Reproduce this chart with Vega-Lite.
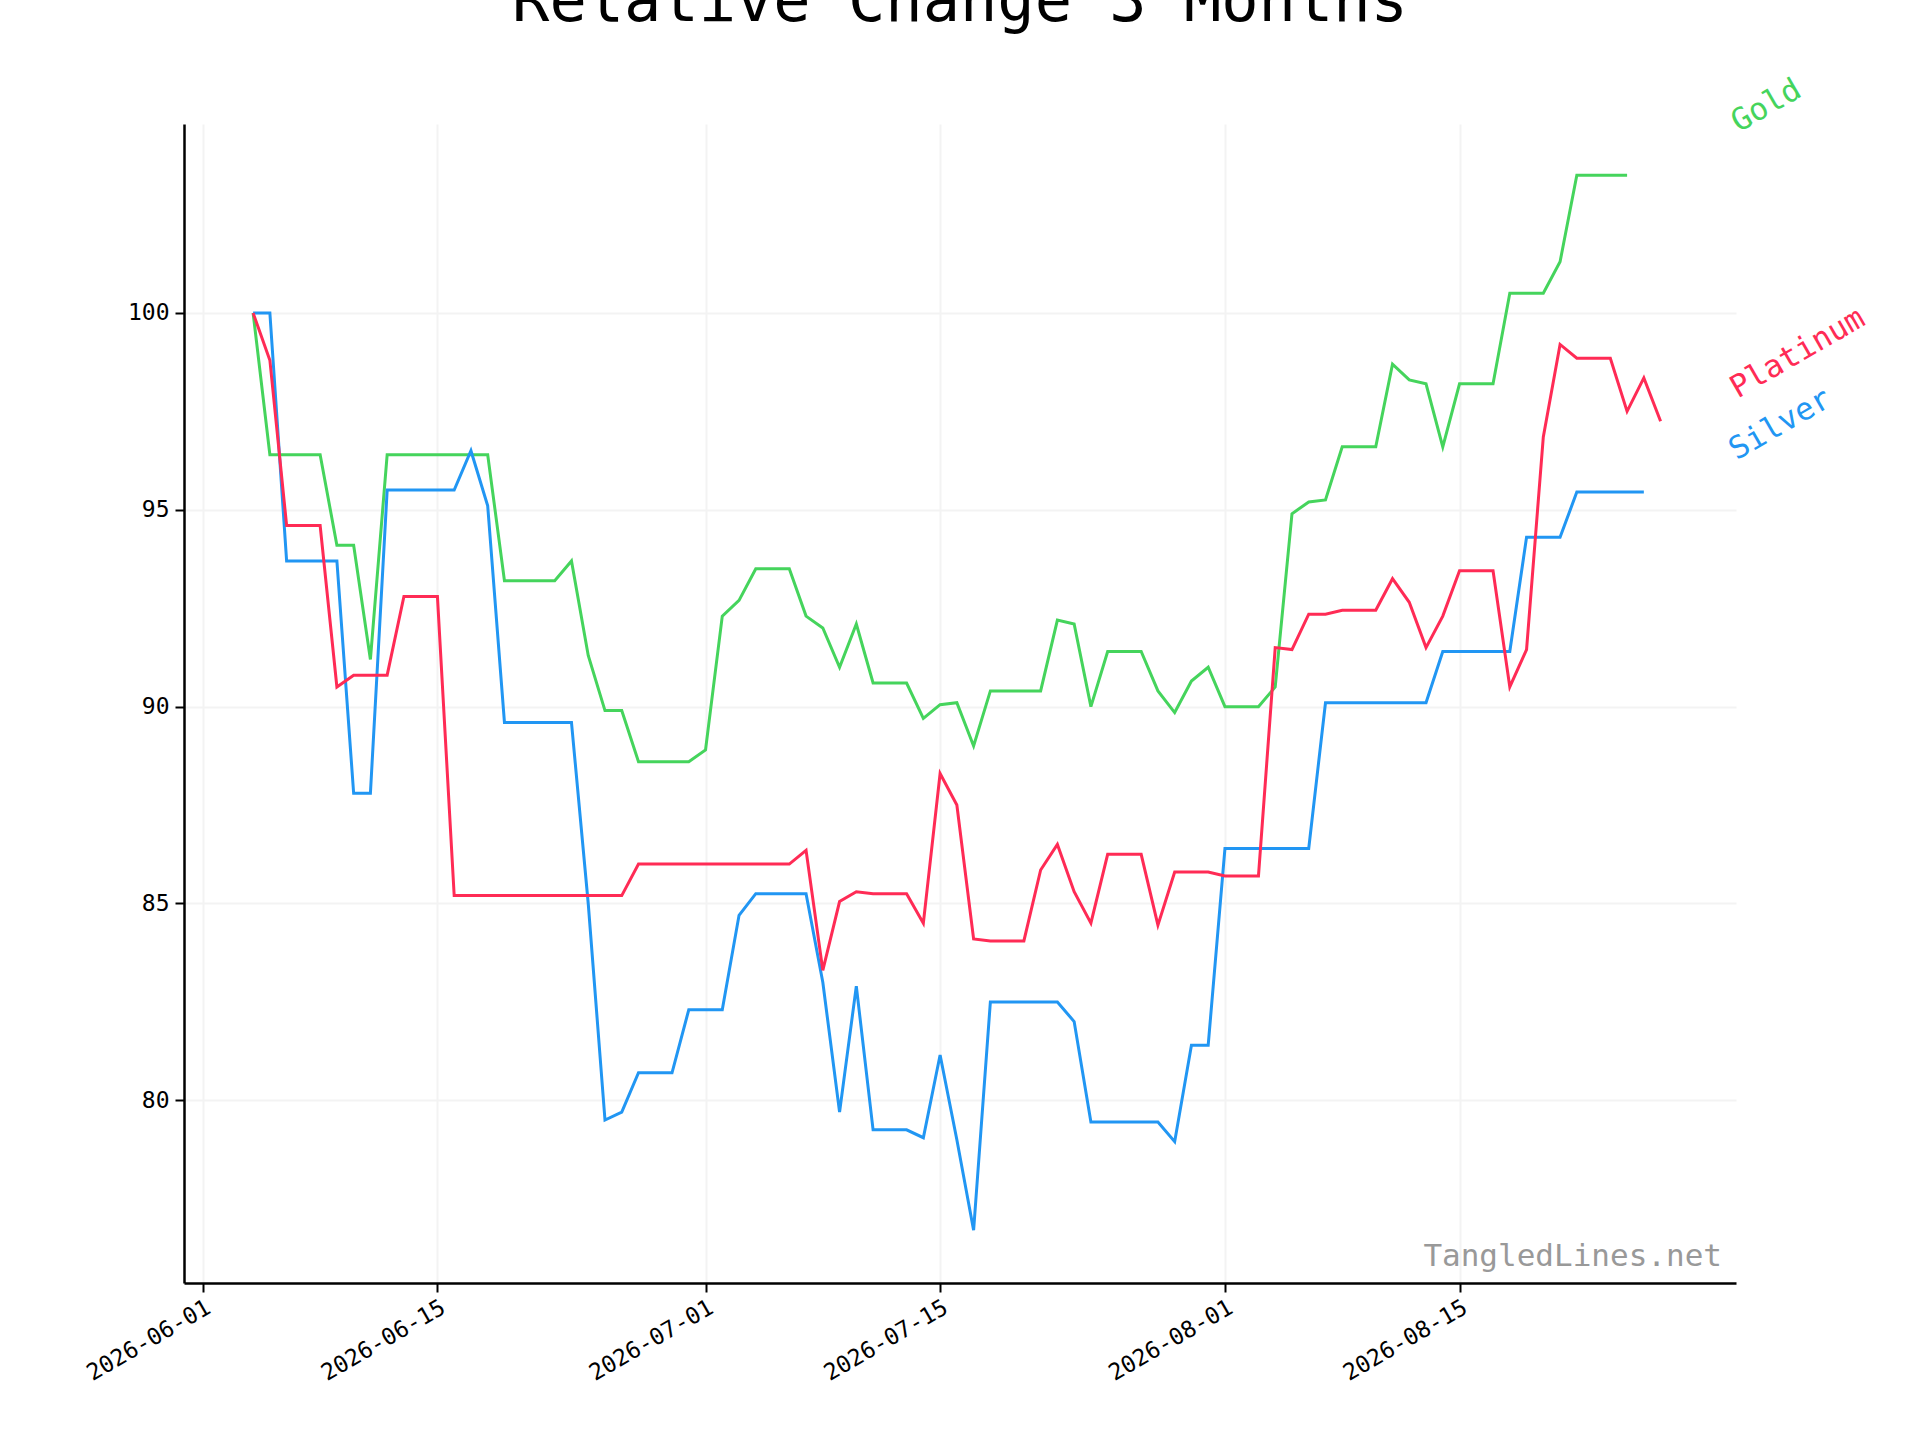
{
"$schema":"https://vega.github.io/schema/vega-lite/v6.json",
"width":1552,"height":1159,
"padding":{"left":184,"top":124,"right":184,"bottom":157},
"autosize":{"type":"none"},
"background":"white",
"config":{"view":{"stroke":null},"font":"DejaVu Sans Mono",
"axis":{"labelFont":"DejaVu Sans Mono","labelFontSize":23,"labelColor":"black","domainColor":"black","domainWidth":2.5,"tickColor":"black","tickWidth":2,"tickSize":9,"gridColor":"#f3f3f3","gridWidth":2,"title":null}},
"title":{"text":"Relative Change 3 Months","font":"DejaVu Sans Mono","fontSize":62,"fontWeight":"normal","color":"black","offset":40},
"data":{"values":[
{"d":"2026-06-04","g":100,"s":100,"p":100},
{"d":"2026-06-05","g":96.4,"s":100,"p":98.8},
{"d":"2026-06-06","g":96.4,"s":93.7,"p":94.6},
{"d":"2026-06-07","g":96.4,"s":93.7,"p":94.6},
{"d":"2026-06-08","g":96.4,"s":93.7,"p":94.6},
{"d":"2026-06-09","g":94.1,"s":93.7,"p":90.5},
{"d":"2026-06-10","g":94.1,"s":87.8,"p":90.8},
{"d":"2026-06-11","g":91.2,"s":87.8,"p":90.8},
{"d":"2026-06-12","g":96.4,"s":95.5,"p":90.8},
{"d":"2026-06-13","g":96.4,"s":95.5,"p":92.8},
{"d":"2026-06-14","g":96.4,"s":95.5,"p":92.8},
{"d":"2026-06-15","g":96.4,"s":95.5,"p":92.8},
{"d":"2026-06-16","g":96.4,"s":95.5,"p":85.2},
{"d":"2026-06-17","g":96.4,"s":96.5,"p":85.2},
{"d":"2026-06-18","g":96.4,"s":95.1,"p":85.2},
{"d":"2026-06-19","g":93.2,"s":89.6,"p":85.2},
{"d":"2026-06-20","g":93.2,"s":89.6,"p":85.2},
{"d":"2026-06-21","g":93.2,"s":89.6,"p":85.2},
{"d":"2026-06-22","g":93.2,"s":89.6,"p":85.2},
{"d":"2026-06-23","g":93.7,"s":89.6,"p":85.2},
{"d":"2026-06-24","g":91.3,"s":85,"p":85.2},
{"d":"2026-06-25","g":89.9,"s":79.5,"p":85.2},
{"d":"2026-06-26","g":89.9,"s":79.7,"p":85.2},
{"d":"2026-06-27","g":88.6,"s":80.7,"p":86},
{"d":"2026-06-28","g":88.6,"s":80.7,"p":86},
{"d":"2026-06-29","g":88.6,"s":80.7,"p":86},
{"d":"2026-06-30","g":88.6,"s":82.3,"p":86},
{"d":"2026-07-01","g":88.9,"s":82.3,"p":86},
{"d":"2026-07-02","g":92.3,"s":82.3,"p":86},
{"d":"2026-07-03","g":92.7,"s":84.7,"p":86},
{"d":"2026-07-04","g":93.5,"s":85.25,"p":86},
{"d":"2026-07-05","g":93.5,"s":85.25,"p":86},
{"d":"2026-07-06","g":93.5,"s":85.25,"p":86},
{"d":"2026-07-07","g":92.3,"s":85.25,"p":86.35},
{"d":"2026-07-08","g":92.0,"s":83,"p":83.3},
{"d":"2026-07-09","g":91.0,"s":79.7,"p":85.05},
{"d":"2026-07-10","g":92.1,"s":82.9,"p":85.3},
{"d":"2026-07-11","g":90.6,"s":79.25,"p":85.25},
{"d":"2026-07-12","g":90.6,"s":79.25,"p":85.25},
{"d":"2026-07-13","g":90.6,"s":79.25,"p":85.25},
{"d":"2026-07-14","g":89.7,"s":79.05,"p":84.5},
{"d":"2026-07-15","g":90.05,"s":81.15,"p":88.3},
{"d":"2026-07-16","g":90.1,"s":79.0,"p":87.5},
{"d":"2026-07-17","g":89.0,"s":76.7,"p":84.1},
{"d":"2026-07-18","g":90.4,"s":82.5,"p":84.05},
{"d":"2026-07-19","g":90.4,"s":82.5,"p":84.05},
{"d":"2026-07-20","g":90.4,"s":82.5,"p":84.05},
{"d":"2026-07-21","g":90.4,"s":82.5,"p":85.85},
{"d":"2026-07-22","g":92.2,"s":82.5,"p":86.5},
{"d":"2026-07-23","g":92.1,"s":82.0,"p":85.3},
{"d":"2026-07-24","g":90.0,"s":79.45,"p":84.5},
{"d":"2026-07-25","g":91.4,"s":79.45,"p":86.25},
{"d":"2026-07-26","g":91.4,"s":79.45,"p":86.25},
{"d":"2026-07-27","g":91.4,"s":79.45,"p":86.25},
{"d":"2026-07-28","g":90.4,"s":79.45,"p":84.45},
{"d":"2026-07-29","g":89.85,"s":78.95,"p":85.8},
{"d":"2026-07-30","g":90.65,"s":81.4,"p":85.8},
{"d":"2026-07-31","g":91.0,"s":81.4,"p":85.8},
{"d":"2026-08-01","g":90.0,"s":86.4,"p":85.7},
{"d":"2026-08-02","g":90.0,"s":86.4,"p":85.7},
{"d":"2026-08-03","g":90.0,"s":86.4,"p":85.7},
{"d":"2026-08-04","g":90.5,"s":86.4,"p":91.5},
{"d":"2026-08-05","g":94.9,"s":86.4,"p":91.45},
{"d":"2026-08-06","g":95.2,"s":86.4,"p":92.35},
{"d":"2026-08-07","g":95.25,"s":90.1,"p":92.35},
{"d":"2026-08-08","g":96.6,"s":90.1,"p":92.45},
{"d":"2026-08-09","g":96.6,"s":90.1,"p":92.45},
{"d":"2026-08-10","g":96.6,"s":90.1,"p":92.45},
{"d":"2026-08-11","g":98.7,"s":90.1,"p":93.25},
{"d":"2026-08-12","g":98.3,"s":90.1,"p":92.65},
{"d":"2026-08-13","g":98.2,"s":90.1,"p":91.5},
{"d":"2026-08-14","g":96.6,"s":91.4,"p":92.3},
{"d":"2026-08-15","g":98.2,"s":91.4,"p":93.45},
{"d":"2026-08-16","g":98.2,"s":91.4,"p":93.45},
{"d":"2026-08-17","g":98.2,"s":91.4,"p":93.45},
{"d":"2026-08-18","g":100.5,"s":91.4,"p":90.5},
{"d":"2026-08-19","g":100.5,"s":94.3,"p":91.45},
{"d":"2026-08-20","g":100.5,"s":94.3,"p":96.85},
{"d":"2026-08-21","g":101.3,"s":94.3,"p":99.2},
{"d":"2026-08-22","g":103.5,"s":95.45,"p":98.85},
{"d":"2026-08-23","g":103.5,"s":95.45,"p":98.85},
{"d":"2026-08-24","g":103.5,"s":95.45,"p":98.85},
{"d":"2026-08-25","g":103.5,"s":95.45,"p":97.5},
{"d":"2026-08-26","g":null,"s":95.45,"p":98.35},
{"d":"2026-08-27","g":null,"s":null,"p":97.25}
]},
"transform":[{"fold":["g","s","p"],"as":["k","v"]},{"filter":"isValid(datum.v)"}],
"encoding":{
"x":{"field":"d","type":"temporal","scale":{"type":"utc","domain":["2026-05-30T21:00:00","2026-08-31T12:00:00"]},
"axis":{"values":[{"year":2026,"month":6,"date":1,"utc":true},{"year":2026,"month":6,"date":15,"utc":true},{"year":2026,"month":7,"date":1,"utc":true},{"year":2026,"month":7,"date":15,"utc":true},{"year":2026,"month":8,"date":1,"utc":true},{"year":2026,"month":8,"date":15,"utc":true}],"format":"%Y-%m-%d","labelAngle":-30,"labelAlign":"right","labelBaseline":"top","labelPadding":4}},
"y":{"field":"v","type":"quantitative","scale":{"domain":[75.36,104.8],"nice":false,"zero":false},"axis":{"values":[80,85,90,95,100],"labelPadding":6}},
"color":{"field":"k","type":"nominal","scale":{"domain":["g","s","p"],"range":["#45d45c","#2196f3","#ff2b55"]},"legend":null}
},
"layer":[
{"mark":{"type":"line","strokeWidth":3}},
{"transform":[{"filter":"datum.k=='g' && utcmonth(datum.d)==7 && utcdate(datum.d)==25"}],"mark":{"type":"text","align":"left","baseline":"alphabetic","angle":-30,"fontSize":31,"dx":118,"dy":19,"text":"Gold"}},
{"transform":[{"filter":"datum.k=='s' && utcmonth(datum.d)==7 && utcdate(datum.d)==26"}],"mark":{"type":"text","align":"left","baseline":"alphabetic","angle":-30,"fontSize":31,"dx":96,"dy":19,"text":"Silver"}},
{"transform":[{"filter":"datum.k=='p' && utcmonth(datum.d)==7 && utcdate(datum.d)==27"}],"mark":{"type":"text","align":"left","baseline":"alphabetic","angle":-30,"fontSize":31,"dx":78,"dy":19,"text":"Platinum"}},
{"transform":[{"filter":"datum.k=='g' && utcmonth(datum.d)==5 && utcdate(datum.d)==4"}],"mark":{"type":"text","align":"right","baseline":"bottom","fontSize":31,"text":"TangledLines.net","dx":-14,"dy":-10},"encoding":{"x":{"datum":{"year":2026,"month":8,"date":31,"hours":12,"utc":true},"type":"temporal"},"y":{"datum":75.36},"color":{"value":"#999999"}}}
]
}
